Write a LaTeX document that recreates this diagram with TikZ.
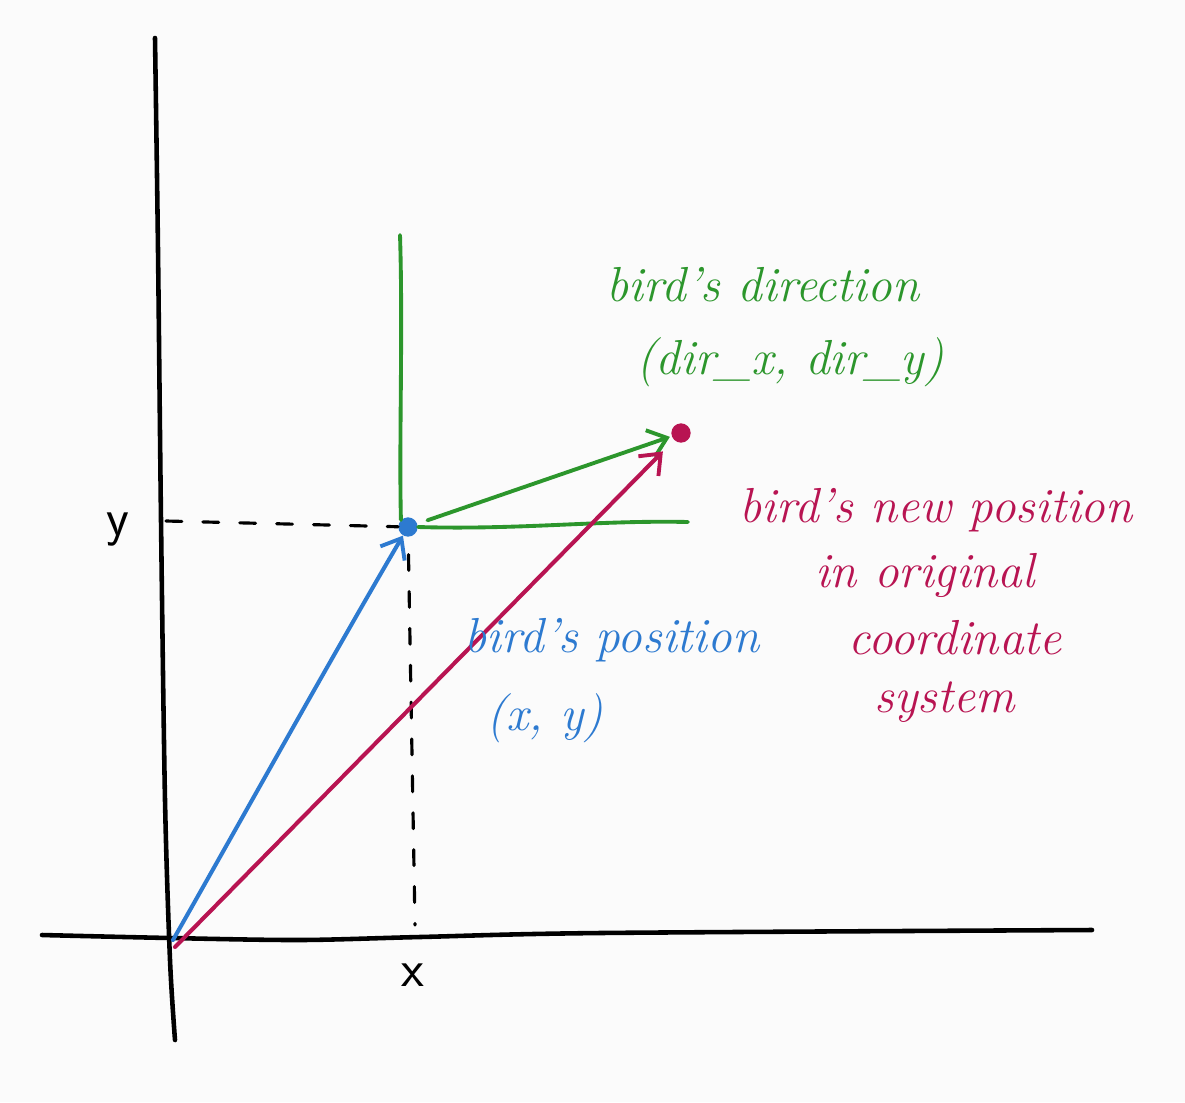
\documentclass[tikz,border=0pt]{standalone}
\usetikzlibrary{arrows.meta}
\definecolor{gr}{RGB}{44,150,44}
\definecolor{bl}{RGB}{45,122,208}
\definecolor{rd}{RGB}{184,20,82}
\definecolor{bg}{RGB}{251,251,251}
\begin{document}
\begin{tikzpicture}[x=0.02cm,y=-0.02cm, line cap=round, line join=round,
  axis/.style={line width=2.6pt,black},
  guide/.style={line width=1.8pt,black,dash pattern=on 9pt off 12pt},
  gline/.style={line width=2.2pt,gr},
  barb/.style={-{Straight Barb[length=10pt,width=16pt,line width=2.2pt]}},
  dot/.style={circle,inner sep=0pt,minimum size=11pt},
  lbl/.style={font=\fontsize{28}{34}\selectfont\itshape,inner sep=0pt},
  axlbl/.style={font=\fontsize{30}{34}\selectfont\sffamily,inner sep=0pt,black}]
\fill[bg] (0,0) rectangle (1185,1102);
\useasboundingbox (0,0) rectangle (1185,1102);
% axes
\draw[axis] plot[smooth] coordinates {(155,38) (158,250) (161,520) (165,800) (170,960) (175,1040)};
\draw[axis] plot[smooth] coordinates {(42,935) (170,938) (300,940) (420,937) (600,933) (1092,930)};
\node[axlbl] (ylab) at (118,530) {y};
\node[axlbl] (xlab) at (413,975) {x};
% points
\coordinate (O) at (173,940);
\coordinate (O2) at (175,947);
\node[dot,fill=bl] (P) at (408,527) {};
\node[dot,fill=rd] (Q) at (681,433) {};
\coordinate (Ydash) at (166,521);
\coordinate (Xdash) at (415,925);
\coordinate (Gtop) at (400,235);
\coordinate (Gright) at (688,522);
% guides
\draw[guide] (Ydash) -- (P);
\draw[guide,shorten <=10pt] (P) -- (Xdash);
% green frame
\draw[gline] (Gtop) .. controls (403,330) and (399,440) .. (P.north west);
\draw[gline] (P.east) .. controls (520,530) and (600,520) .. (Gright);
\draw[gline,barb,shorten <=6pt,shorten >=1pt] (P) -- (Q);
% position vectors
\draw[line width=2.3pt,bl,barb] (O) .. controls (230,840) and (330,660) .. (P);
\draw[line width=2.3pt,rd,barb,shorten >=9pt] (O2) -- (Q);
% labels
\node[lbl,gr] (dirt) at (763,285) {bird's direction};
\node[lbl,gr] (dirv) at (790,362) {(dir\_x, dir\_y)};
\node[lbl,rd] (n1) at (936,510) {bird's new position};
\node[lbl,rd] (n2) at (925,575) {in original};
\node[lbl,rd] (n3) at (955,638) {coordinate};
\node[lbl,rd] (n4) at (945,702) {system};
\node[lbl,bl] (pt) at (612,640) {bird's position};
\node[lbl,bl] (pv) at (545,718) {(x, y)};
\end{tikzpicture}
\end{document}
